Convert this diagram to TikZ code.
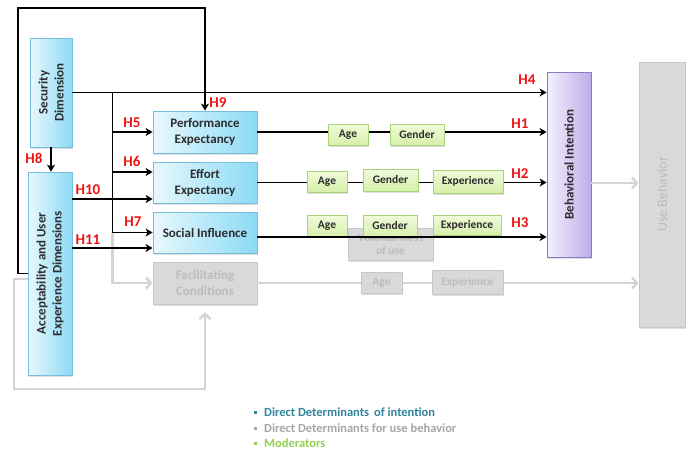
\documentclass[tikz,border=0pt]{standalone}
\usepackage{fontspec}
\setmainfont{Carlito}
\usetikzlibrary{arrows.meta,shadows}

\definecolor{blueL}{RGB}{232,248,253}
\definecolor{blueR}{RGB}{140,218,245}
\definecolor{blueedge}{RGB}{120,190,220}
\definecolor{purpL}{RGB}{244,240,253}
\definecolor{purpR}{RGB}{190,172,232}
\definecolor{purpedge}{RGB}{140,122,190}
\definecolor{greenT}{RGB}{240,250,220}
\definecolor{greenB}{RGB}{214,240,170}
\definecolor{greenedge}{RGB}{170,210,120}
\definecolor{grayfill}{RGB}{217,217,217}
\definecolor{grayedge}{RGB}{200,200,200}
\definecolor{graytext}{RGB}{188,188,188}
\definecolor{grayline}{RGB}{212,212,212}
\definecolor{boxtext}{RGB}{45,45,45}
\definecolor{hred}{RGB}{240,20,20}
\definecolor{legteal}{RGB}{49,132,155}
\definecolor{leggray}{RGB}{166,166,166}
\definecolor{leggreen}{RGB}{146,208,80}

\tikzset{
  boxbase/.style={rectangle, inner sep=0pt, line width=0.8pt, align=center,
    font=\fontsize{13}{16}\selectfont\bfseries, text=boxtext,
    drop shadow={opacity=0.25, shadow xshift=1pt, shadow yshift=-1.5pt}},
  bluebox/.style={boxbase, draw=blueedge, left color=blueL, right color=blueR},
  purplebox/.style={boxbase, draw=purpedge, left color=purpL, right color=purpR},
  greenbox/.style={boxbase, draw=greenedge, top color=greenT, bottom color=greenB,
    font=\fontsize{11.5}{13}\selectfont\bfseries},
  graybox/.style={boxbase, draw=grayedge, fill=grayfill, text=graytext},
  boxlabel/.style={inner sep=0pt, align=center, rotate=90,
    font=\fontsize{13}{16}\selectfont\bfseries, text=boxtext},
  hlabel/.style={inner sep=0pt, font=\fontsize{15}{15}\selectfont\bfseries, text=hred},
  legend/.style={inner sep=0pt, anchor=west, font=\fontsize{12.5}{14}\selectfont\bfseries},
  blkarrow/.style={draw=black, line width=1.6pt, -{Stealth[length=7pt,width=8pt,inset=2pt]}},
  gryarrow/.style={draw=grayline, line width=2.4pt, -{Straight Barb[length=5pt,width=11pt]}}
}

\begin{document}
\begin{tikzpicture}[x=1pt,y=-1pt]
  \useasboundingbox (0,0) rectangle (692,450);

  % main constructs
  \path (51,92.5) node[bluebox, minimum width=42, minimum height=109] (sec) {};
  \path (sec) node[boxlabel] {Security\\Dimension};
  \path (50,273.5) node[bluebox, minimum width=44, minimum height=203] (acc) {};
  \path (acc) node[boxlabel] {Acceptability and User\\Experience Dimensions};

  \path (205,132) node[bluebox, minimum width=104, minimum height=42] (perf) {Performance\\Expectancy};
  \path (205,182.5) node[bluebox, minimum width=104, minimum height=41] (eff) {Effort\\Expectancy};
  \path (205,232.5) node[bluebox, minimum width=104, minimum height=41] (soc) {Social Influence};
  \path (205,283) node[graybox, minimum width=104, minimum height=42] (fac) {Facilitating\\Conditions};

  \path (569,164.5) node[purplebox, minimum width=44, minimum height=185] (bi) {};
  \path (bi) node[boxlabel] {Behavioral Intention};
  \path (662,194.5) node[graybox, minimum width=46, minimum height=265] (ub) {};
  \path (ub) node[boxlabel, font=\fontsize{14}{16}\selectfont, text=graytext] {Use Behavior};

  \coordinate (loopTL) at (18,8);
  \coordinate (loopBL) at (14,389);
  \path (sec.east) -- ++(40,0) coordinate (br);
  \coordinate (h6in) at ([yshift=10.5pt]eff.west);
  \coordinate (h10in) at ([yshift=-16.5pt]eff.west);
  \coordinate (h11in) at ([yshift=-15.5pt]soc.west);
  \coordinate (h3out) at ([yshift=-4.5pt]soc.east);
  \coordinate (biout) at ([yshift=-18.5pt]bi.east);

  % use behavior paths
  \draw[gryarrow] (br |- soc.west) |- (fac.west);
  \draw[gryarrow, shorten >=8pt] ([yshift=-5.5pt]acc.west) -| (loopBL) -| (fac.south);
  \draw[gryarrow] (fac.east) -- (fac.east -| ub.west);
  \draw[gryarrow] (biout) -- (biout -| ub.west);

  % hypotheses
  \draw[blkarrow] (acc.west) -| (loopTL) -| (perf.north);
  \draw[blkarrow] (sec.south) -- (sec.south |- acc.north);
  \draw[blkarrow] (sec.east) -- (sec.east -| bi.west);
  \draw[blkarrow] (br) |- (soc.west);
  \draw[blkarrow] (br |- perf.west) -- (perf.west);
  \draw[blkarrow] (br |- h6in) -- (h6in);
  \draw[blkarrow] (acc.east |- h10in) -- (h10in);
  \draw[blkarrow] (acc.east |- h11in) -- (h11in);
  \draw[blkarrow] (perf.east) -- (perf.east -| bi.west);
  \draw[blkarrow] (eff.east) -- (eff.east -| bi.west);

  % moderators
  \path (348,134.5) node[greenbox, minimum width=40, minimum height=21] (age1) {Age};
  \path (417,134.5) node[greenbox, minimum width=54, minimum height=21] (gen1) {Gender};
  \path (327,181.5) node[greenbox, minimum width=40, minimum height=21] (age2) {Age};
  \path (390.5,180) node[greenbox, minimum width=55, minimum height=22] (gen2) {Gender};
  \path (468,181.5) node[greenbox, minimum width=70, minimum height=23] (exp2) {Experience};

  \path (390.5,244) node[graybox, minimum width=85, minimum height=32,
    font=\fontsize{11.5}{12.5}\selectfont\bfseries] (vol) {Voluntariness\\of use};
  \path (327,225.5) node[greenbox, minimum width=40, minimum height=21] (age3) {Age};
  \path (390,226) node[greenbox, minimum width=54, minimum height=22] (gen3) {Gender};
  \path (467,225) node[greenbox, minimum width=68, minimum height=20] (exp3) {Experience};
  \draw[blkarrow] (h3out) -- (h3out -| bi.west);

  \path (381.5,282.5) node[graybox, minimum width=41, minimum height=21,
    font=\fontsize{11.5}{13}\selectfont\bfseries] (age4) {Age};
  \path (467.5,282) node[graybox, minimum width=71, minimum height=24,
    font=\fontsize{11.5}{13}\selectfont\bfseries] (exp4) {Experience};

  % hypothesis labels
  \path (218,103) node[hlabel] (h9) {H9};
  \path (132,123) node[hlabel] (h5) {H5};
  \path (132,161) node[hlabel] (h6) {H6};
  \path (88,190) node[hlabel] (h10) {H10};
  \path (133,222) node[hlabel] (h7) {H7};
  \path (88,240) node[hlabel] (h11) {H11};
  \path (34,158) node[hlabel] (h8) {H8};
  \path (527,80) node[hlabel] (h4) {H4};
  \path (520,124) node[hlabel] (h1) {H1};
  \path (520,174) node[hlabel] (h2) {H2};
  \path (520,223) node[hlabel] (h3) {H3};

  % legend
  \path (254,412) node[legend, text=legteal] (leg1) {\raisebox{2.5pt}{\rule{3pt}{3pt}}\hspace{7pt}Direct Determinants\, of intention};
  \path (254,428) node[legend, text=leggray] (leg2) {\raisebox{2.5pt}{\rule{3pt}{3pt}}\hspace{7pt}Direct Determinants for use behavior};
  \path (254,443) node[legend, text=leggreen] (leg3) {\raisebox{2.5pt}{\rule{3pt}{3pt}}\hspace{7pt}Moderators};
\end{tikzpicture}
\end{document}
